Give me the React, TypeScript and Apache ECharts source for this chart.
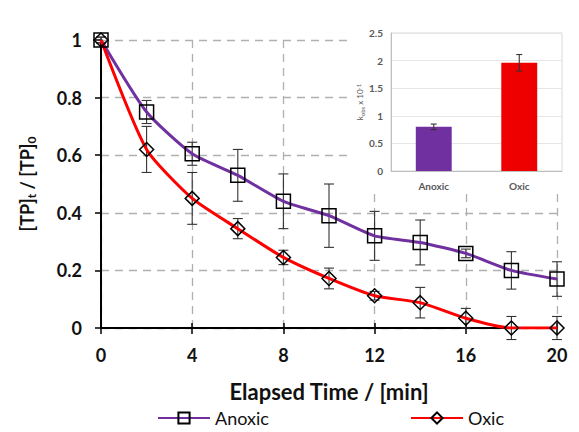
import React, { useEffect, useRef } from "react";
import * as echarts from "echarts";

const times = [0, 2, 4, 6, 8, 10, 12, 14, 16, 18, 20];
const anoxic = [1, 0.75, 0.605, 0.53, 0.44, 0.39, 0.32, 0.297, 0.259, 0.2, 0.17];
const anoxicErr = [0.01, 0.04, 0.04, 0.09, 0.095, 0.11, 0.085, 0.078, 0.015, 0.065, 0.06];
const oxic = [1, 0.62, 0.45, 0.345, 0.245, 0.172, 0.112, 0.088, 0.034, 0, 0];
const oxicErr = [0.01, 0.08, 0.09, 0.035, 0.025, 0.036, 0.015, 0.053, 0.034, 0.04, 0.04];

const insetCats = ["Anoxic", "Oxic"];
const insetVals = [0.8, 1.96];
const insetErr = [0.05, 0.15];

const PURPLE = "#7030A0";
const RED = "#FF0000";
const FONT = "Lato";

function errRender(vals: number[], errs: number[], xs: number[] | null, cap: number) {
  return (params: any, api: any) => {
    const i = params.dataIndex;
    const x = xs ? xs[i] : i;
    const top = api.coord([x, vals[i] + errs[i]]);
    const bot = api.coord([x, vals[i] - errs[i]]);
    const style = { stroke: "#333", lineWidth: 1.1 };
    return {
      type: "group",
      children: [
        { type: "line", shape: { x1: top[0], y1: top[1], x2: bot[0], y2: bot[1] }, style },
        { type: "line", shape: { x1: top[0] - cap, y1: top[1], x2: top[0] + cap, y2: top[1] }, style },
        { type: "line", shape: { x1: bot[0] - cap, y1: bot[1], x2: bot[0] + cap, y2: bot[1] }, style },
      ],
    };
  };
}

export default function App() {
  const ref = useRef<HTMLDivElement>(null);
  useEffect(() => {
    const chart = echarts.init(ref.current!, null, { renderer: "svg" });
    const grayText = "#595959";
    chart.setOption({
      animation: false,
      backgroundColor: "#fff",
      textStyle: { fontFamily: FONT },
      grid: [
        { left: 101, right: 22, top: 40, bottom: 104 },
        { left: 391, right: 17, top: 33, bottom: 261, show: true, borderColor: "#d9d9d9", borderWidth: 1, backgroundColor: "#fff", z: 2 },
      ],
      graphic: [
        {
          type: "rect",
          z: 1,
          shape: { x: 348, y: 18, width: 231, height: 174 },
          style: { fill: "#fff" },
        },
      ],
      legend: [
        {
          data: ["Anoxic"],
          left: 157,
          top: 409,
          padding: 0,
          itemWidth: 52,
          itemHeight: 14,
          itemGap: 4,
          textStyle: { fontFamily: FONT, fontSize: 18, lineHeight: 18, color: "#111" },
        },
        {
          data: ["Oxic"],
          left: 410,
          top: 409,
          padding: 0,
          itemWidth: 52,
          itemHeight: 14,
          textStyle: { fontFamily: FONT, fontSize: 18, lineHeight: 18, color: "#111" },
        },
      ],
      xAxis: [
        {
          type: "value",
          gridIndex: 0,
          min: 0,
          max: 20,
          interval: 4,
          name: "Elapsed Time / [min]",
          nameLocation: "middle",
          nameGap: 52,
          nameTextStyle: { fontFamily: FONT, fontSize: 22, fontWeight: "bold", color: "#111" },
          axisLine: { lineStyle: { color: "#000", width: 2 } },
          axisTick: { show: true, length: 6, lineStyle: { color: "#000", width: 1.5 } },
          axisLabel: { fontFamily: FONT, fontSize: 18, fontWeight: "bold", color: "#111", margin: 18 },
          splitLine: { show: true, lineStyle: { color: "#b0b0b0", type: [8, 6], width: 1.3 } },
        },
        {
          type: "value",
          gridIndex: 0,
          min: 0,
          max: 20,
          interval: 4,
          axisLine: { show: false },
          axisTick: { show: true, inside: true, length: 5, lineStyle: { color: "#000", width: 1.5 } },
          axisLabel: { show: false },
          splitLine: { show: false },
          position: "bottom",
        },
        {
          type: "category",
          gridIndex: 1,
          data: insetCats,
          z: 5,
          axisLine: { lineStyle: { color: "#bfbfbf", width: 1 } },
          axisTick: { show: false },
          axisLabel: { fontFamily: FONT, fontSize: 10, fontWeight: "bold", color: grayText, margin: 10 },
        },
      ],
      yAxis: [
        {
          type: "value",
          gridIndex: 0,
          min: 0,
          max: 1,
          interval: 0.2,
          name: "[TP]{sub|t} / [TP]{sub|0}",
          nameLocation: "middle",
          nameGap: 64,
          nameRotate: 90,
          nameTextStyle: {
            fontFamily: FONT,
            fontSize: 18,
            fontWeight: "bold",
            color: "#111",
            rich: {
              sub: { fontFamily: FONT, fontSize: 12, fontWeight: "bold", color: "#111", verticalAlign: "bottom", padding: [9, 0, 0, 0] },
            },
          },
          axisLine: { show: true, lineStyle: { color: "#000", width: 2 } },
          axisTick: { show: true, length: 6, lineStyle: { color: "#000", width: 1.5 } },
          axisLabel: {
            fontFamily: FONT,
            fontSize: 18,
            fontWeight: "bold",
            color: "#111",
            margin: 19,
            formatter: (v: number) => String(Math.round(v * 10) / 10),
          },
          splitLine: { show: true, lineStyle: { color: "#b0b0b0", type: [8, 6], width: 1.3 } },
        },
        {
          type: "value",
          gridIndex: 1,
          min: 0,
          max: 2.5,
          interval: 0.5,
          z: 5,
          name: "k{sub|obs} x 10{sup|-1}",
          nameLocation: "middle",
          nameGap: 24,
          nameRotate: 90,
          nameTextStyle: {
            fontFamily: FONT,
            fontSize: 8,
            color: grayText,
            rich: {
              sub: { fontSize: 6, color: grayText, verticalAlign: "bottom", padding: [4, 0, 0, 0] },
              sup: { fontSize: 6, color: grayText, verticalAlign: "top", padding: [0, 0, 4, 0] },
            },
          },
          axisLine: { show: true, lineStyle: { color: "#bfbfbf", width: 1 } },
          axisTick: { show: false },
          axisLabel: { fontFamily: FONT, fontSize: 10, fontWeight: "bold", color: grayText, margin: 8 },
          splitLine: { show: true, lineStyle: { color: "#e6e6e6", width: 1 } },
        },
      ],
      series: [
        {
          name: "AnoxicErr",
          type: "custom",
          xAxisIndex: 0,
          yAxisIndex: 0,
          z: 3,
          data: times.map((t, i) => [t, anoxic[i]]),
          renderItem: errRender(anoxic, anoxicErr, times, 5),
          silent: true,
        },
        {
          name: "OxicErr",
          type: "custom",
          xAxisIndex: 0,
          yAxisIndex: 0,
          z: 3,
          data: times.map((t, i) => [t, oxic[i]]),
          renderItem: errRender(oxic, oxicErr, times, 5),
          silent: true,
        },
        {
          name: "Anoxic",
          type: "line",
          xAxisIndex: 0,
          yAxisIndex: 0,
          z: 4,
          smooth: 0.2,
          data: times.map((t, i) => [t, anoxic[i]]),
          symbol: "rect",
          symbolSize: 14,
          lineStyle: { color: PURPLE, width: 3 },
          itemStyle: { color: "rgba(255,255,255,0)", borderColor: "#000", borderWidth: 1.5 },
        },
        {
          name: "Oxic",
          type: "line",
          xAxisIndex: 0,
          yAxisIndex: 0,
          z: 4,
          smooth: 0.2,
          data: times.map((t, i) => [t, oxic[i]]),
          symbol: "diamond",
          symbolSize: 14,
          lineStyle: { color: RED, width: 3 },
          itemStyle: { color: "rgba(255,0,0,0)", borderColor: "#000", borderWidth: 1.5 },
        },
        {
          name: "insetBars",
          type: "bar",
          xAxisIndex: 2,
          yAxisIndex: 1,
          z: 6,
          barWidth: "42%",
          data: insetVals.map((v, i) => ({
            value: v,
            itemStyle: { color: i === 0 ? "#7030A0" : "#EE0000" },
          })),
        },
        {
          name: "insetErr",
          type: "custom",
          xAxisIndex: 2,
          yAxisIndex: 1,
          z: 7,
          data: insetVals.map((v, i) => [i, v]),
          renderItem: errRender(insetVals, insetErr, null, 3),
          silent: true,
        },
      ],
    });
    return () => chart.dispose();
  }, []);
  return <div ref={ref} style={{ width: 579, height: 432, position: "fixed", left: 0, top: 0 }} />;
}
